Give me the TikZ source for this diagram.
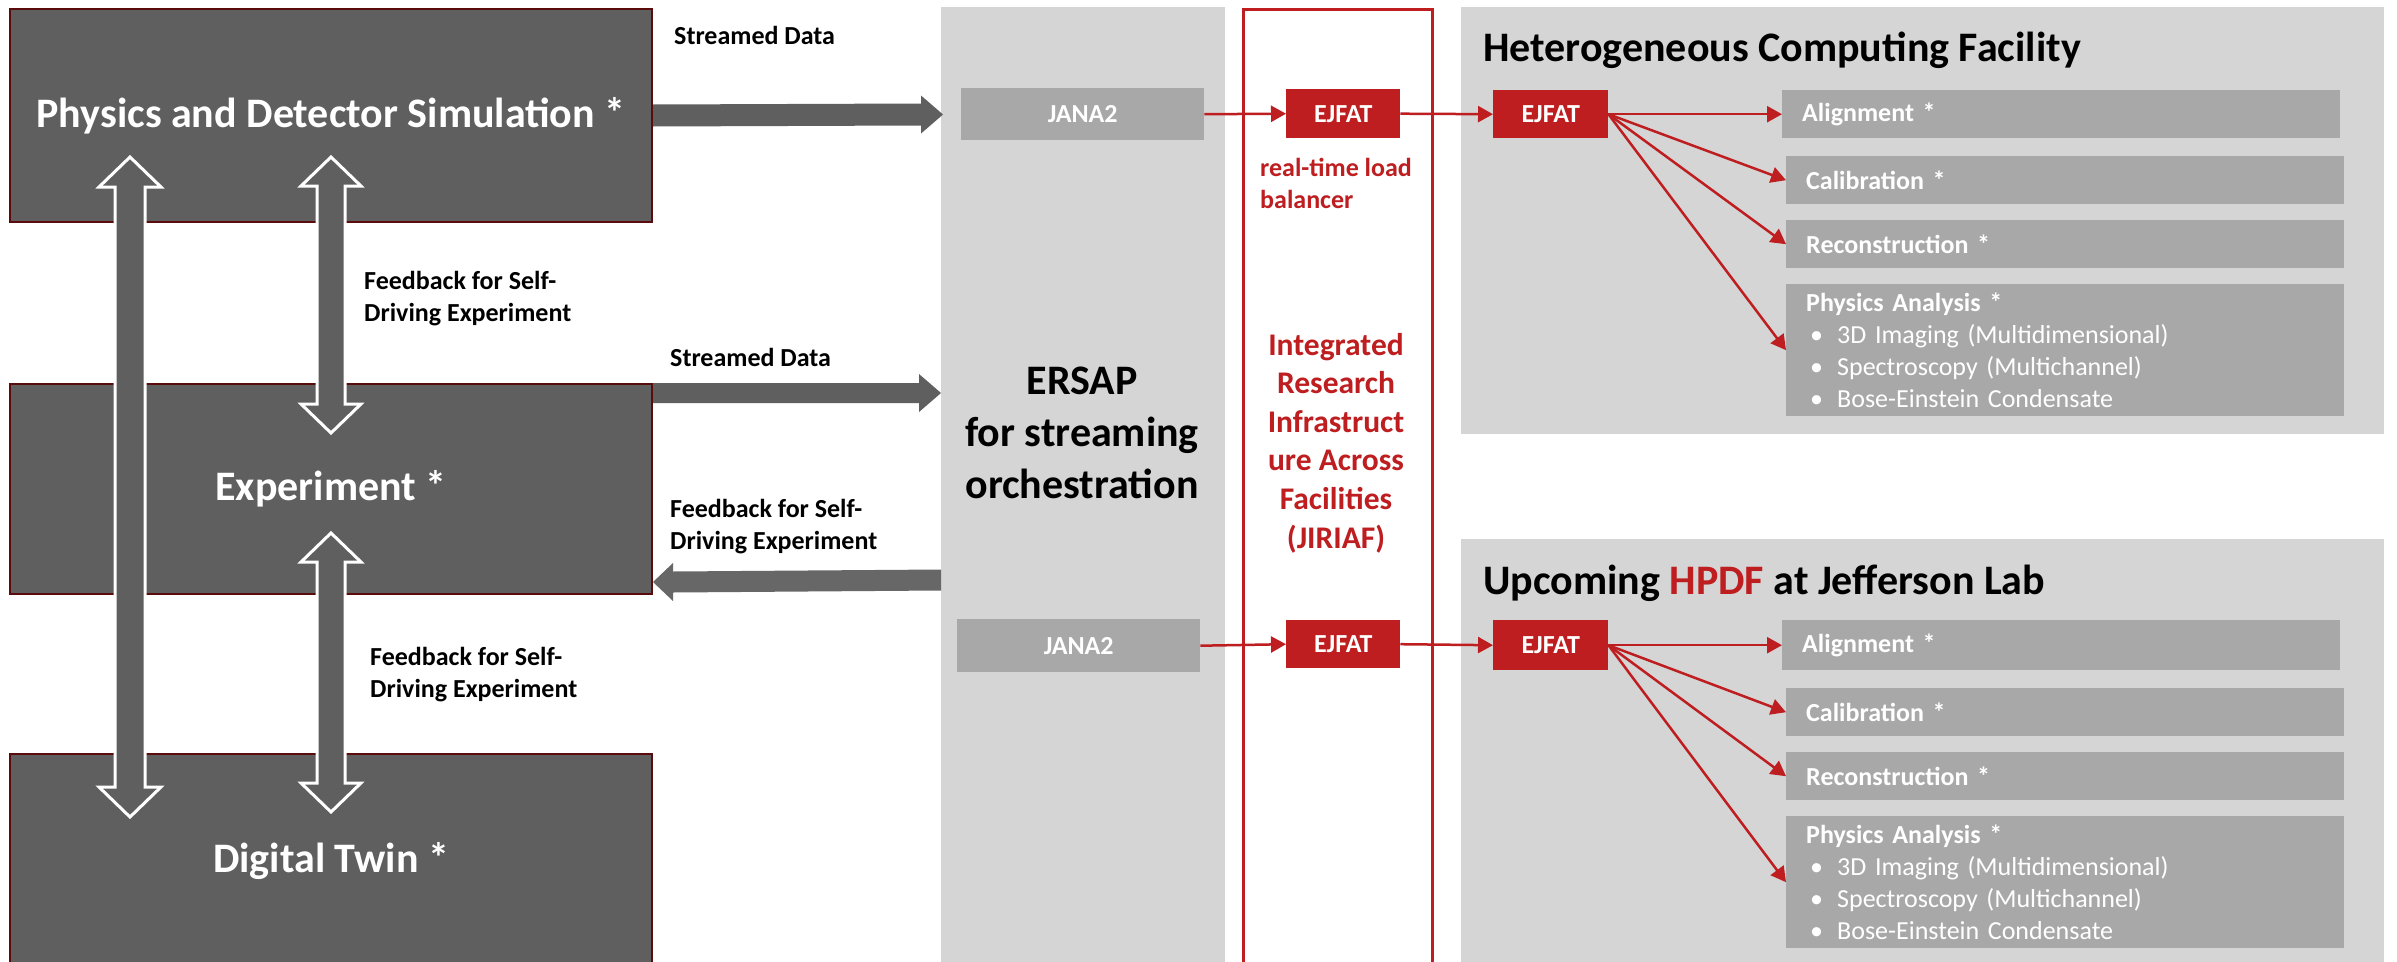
\documentclass[tikz,border=0pt]{standalone}
\usepackage{fontspec}
\setmainfont{Carlito}
\usetikzlibrary{arrows.meta,calc}
\definecolor{dbox}{HTML}{5F5F5F}
\definecolor{dedge}{HTML}{5A0C0C}
\definecolor{panelgray}{HTML}{D5D5D5}
\definecolor{innergray}{HTML}{A8A8A8}
\definecolor{jred}{HTML}{BE1E20}
\definecolor{fbgray}{HTML}{676767}
\newcommand\fs[2]{\fontsize{#1}{#2}\selectfont}
% vertical double block arrow: top tip, bottom tip, shaft half, head half, head length
\newcommand\vdarrow[5]{%
  \path[bigarrow] (#1) -- ++(#4,#5) -- ++(#3-#4,0) -- ($(#2)+(#3,-#5)$) -- ++(#4-#3,0) -- (#2)
    -- ++(-#4,-#5) -- ++(#4-#3,0) -- ($(#1)+(-#3,#5)$) -- ++(#3-#4,0) -- cycle;}
% rightward block arrow: tail, tip, shaft half, head half, head length, style
\newcommand\hrarrow[6]{%
  \path[#6] ($(#1)+(0,-#3)$) -- ($(#2)+(-#5,-#3)$) -- ++(0,#3-#4) -- (#2) -- ++(-#5,#4)
    -- ++(0,#3-#4) -- ($(#1)+(0,#3)$) -- cycle;}
% leftward block arrow
\newcommand\hlarrow[6]{%
  \path[#6] ($(#1)+(0,-#3)$) -- ($(#2)+(#5,-#3)$) -- ++(0,#3-#4) -- (#2) -- ++(#5,#4)
    -- ++(0,#3-#4) -- ($(#1)+(0,#3)$) -- cycle;}
\begin{document}
\begin{tikzpicture}[x=1pt,y=-1pt,
  darkbox/.style={fill=dbox, draw=dedge, line width=2pt, text=white, anchor=north west,
    inner sep=0pt, font=\fs{42}{50}\bfseries},
  panelbox/.style={fill=panelgray, draw=none, anchor=north west, inner sep=0pt},
  framebox/.style={draw=jred, line width=2.5pt, anchor=north west, inner sep=0pt},
  janabox/.style={fill=innergray, text=white, anchor=north west, inner sep=0pt, font=\fs{26}{32}\bfseries},
  ejbox/.style={fill=jred, text=white, anchor=north west, inner sep=0pt, font=\fs{26}{32}\bfseries},
  taskbox/.style={fill=innergray, text=white, anchor=north west, inner xsep=20pt, inner ysep=0pt,
    text width=518pt, align=left, font=\fs{26}{32}\bfseries},
  lbl/.style={anchor=west, inner sep=0pt, align=left, font=\fs{26}{32}\bfseries},
  bigarrow/.style={fill=dbox, draw=white, line width=3pt, line join=miter},
  redarrow/.style={draw=jred, line width=2.5pt, -{Triangle[length=15pt,width=16pt]}}
]
\useasboundingbox (0,0) rectangle (2397,961);
\clip (0,0) rectangle (2397,961);
\fill[white] (0,0) rectangle (2397,961);

% panels
\node[panelbox, minimum width=284pt, minimum height=970pt] (ersap) at (941,7) {};
\node[framebox, minimum width=189pt, minimum height=975pt] (jiriaf) at (1242,8) {};
\node[panelbox, minimum width=923pt, minimum height=427pt] (hcf) at (1461,7) {};
\node[panelbox, minimum width=923pt, minimum height=440pt] (hpdf) at (1461,539) {};

% left boxes
\node[darkbox, minimum width=642pt, minimum height=213pt] (phys) at (9,8) {Physics and Detector Simulation *};
\node[darkbox, minimum width=642pt, minimum height=210pt] (exp) at (9,383) {Experiment *};
\node[darkbox, minimum width=642pt, minimum height=214pt] (twin) at (9,753) {Digital Twin *};

% big arrows
\coordinate (lt) at (130,157);  \coordinate (lb) at (130,817);
\coordinate (m1t) at (331,157); \coordinate (m1b) at (331,433);
\coordinate (m2t) at (331,533); \coordinate (m2b) at (331,812);
\vdarrow{lt}{lb}{15}{31}{30}
\vdarrow{m1t}{m1b}{14}{30}{29}
\vdarrow{m2t}{m2b}{14}{30}{29}

\coordinate (sd1tip) at (943,114.5);
\hrarrow{phys.east}{sd1tip}{11}{19}{22}{fill=dbox}
\coordinate (sd2tail) at ($(exp.north east)+(0,10)$);
\coordinate (sd2tip) at (941,393);
\hrarrow{sd2tail}{sd2tip}{10}{19}{22}{fill=dbox}
\coordinate (fbtail) at (941,580);
\coordinate (fbtip) at ($(exp.south east)+(0,-13)$);
\hlarrow{fbtail}{fbtip}{10.5}{19}{20}{fill=fbgray}

% labels
\node[lbl] (sd1) at (674,35) {Streamed Data};
\node[lbl] (sd2) at (670,357) {Streamed Data};
\node[lbl] (fb1) at (364,299) {Feedback for Self-\\Driving Experiment};
\node[lbl] (fb2) at (670,527) {Feedback for Self-\\Driving Experiment};
\node[lbl] (fb3) at (370,675) {Feedback for Self-\\Driving Experiment};

% ERSAP column
\node[janabox, minimum width=243pt, minimum height=52pt] (jana1) at (961,88) {JANA2};
\node[janabox, minimum width=243pt, minimum height=53pt] (jana2) at (957,619) {JANA2};
\node[align=center, inner sep=0pt, font=\fs{42}{52}\bfseries] (ersapt) at (1082,433) {ERSAP\\for streaming\\orchestration};

% JIRIAF column
\node[ejbox, minimum width=114pt, minimum height=49pt] (ej1) at (1286,89) {EJFAT};
\node[ejbox, minimum width=114pt, minimum height=48pt] (ej2) at (1286,620) {EJFAT};
\node[lbl, text=jred] (rt) at (1260,183) {real-time load\\balancer};
\node[align=center, inner sep=0pt, text=jred, font=\fs{31.5}{38.6}\bfseries] (jt) at (1336,443)
  {Integrated\\Research\\Infrastruct\\ure Across\\Facilities\\(JIRIAF)};

% facility panels
\node[anchor=west, inner sep=0pt, font=\fs{42}{50}\bfseries] (hcft) at (1483,50) {Heterogeneous Computing Facility};
\node[anchor=west, inner sep=0pt, font=\fs{42}{50}\bfseries] (hpdft) at (1483,583) {Upcoming \textcolor{jred}{HPDF} at Jefferson Lab};

\node[ejbox, minimum width=115pt, minimum height=48pt] (ej3) at (1493,90) {EJFAT};
\node[ejbox, minimum width=115pt, minimum height=50pt] (ej4) at (1493,620) {EJFAT};

\node[taskbox, minimum height=48pt] (al1) at (1782,90) {Alignment *};
\node[taskbox, minimum height=48pt] (ca1) at (1786,156) {Calibration *};
\node[taskbox, minimum height=48pt] (re1) at (1786,220) {Reconstruction *};
\node[taskbox, minimum height=132pt] (pa1) at (1786,284) {Physics Analysis *\\
  {\mdseries\hspace*{4pt}\makebox[27pt][l]{•}3D Imaging (Multidimensional)}\\
  {\mdseries\hspace*{4pt}\makebox[27pt][l]{•}Spectroscopy (Multichannel)}\\
  {\mdseries\hspace*{4pt}\makebox[27pt][l]{•}Bose-Einstein Condensate}};

\node[taskbox, minimum height=50pt] (al2) at (1782,620) {Alignment *};
\node[taskbox, minimum height=48pt] (ca2) at (1786,688) {Calibration *};
\node[taskbox, minimum height=48pt] (re2) at (1786,752) {Reconstruction *};
\node[taskbox, minimum height=132pt] (pa2) at (1786,816) {Physics Analysis *\\
  {\mdseries\hspace*{4pt}\makebox[27pt][l]{•}3D Imaging (Multidimensional)}\\
  {\mdseries\hspace*{4pt}\makebox[27pt][l]{•}Spectroscopy (Multichannel)}\\
  {\mdseries\hspace*{4pt}\makebox[27pt][l]{•}Bose-Einstein Condensate}};

% red connectors
\draw[redarrow] (jana1.east) -- (ej1.west);
\draw[redarrow] (ej1.east) -- (ej3.west);
\draw[redarrow] (jana2.east) -- (ej2.west);
\draw[redarrow] (ej2.east) -- (ej4.west);
\foreach \t in {al1,ca1,re1,pa1} \draw[redarrow] (ej3.east) -- (\t.west);
\foreach \t in {al2,ca2,re2,pa2} \draw[redarrow] (ej4.east) -- (\t.west);
\end{tikzpicture}
\end{document}
